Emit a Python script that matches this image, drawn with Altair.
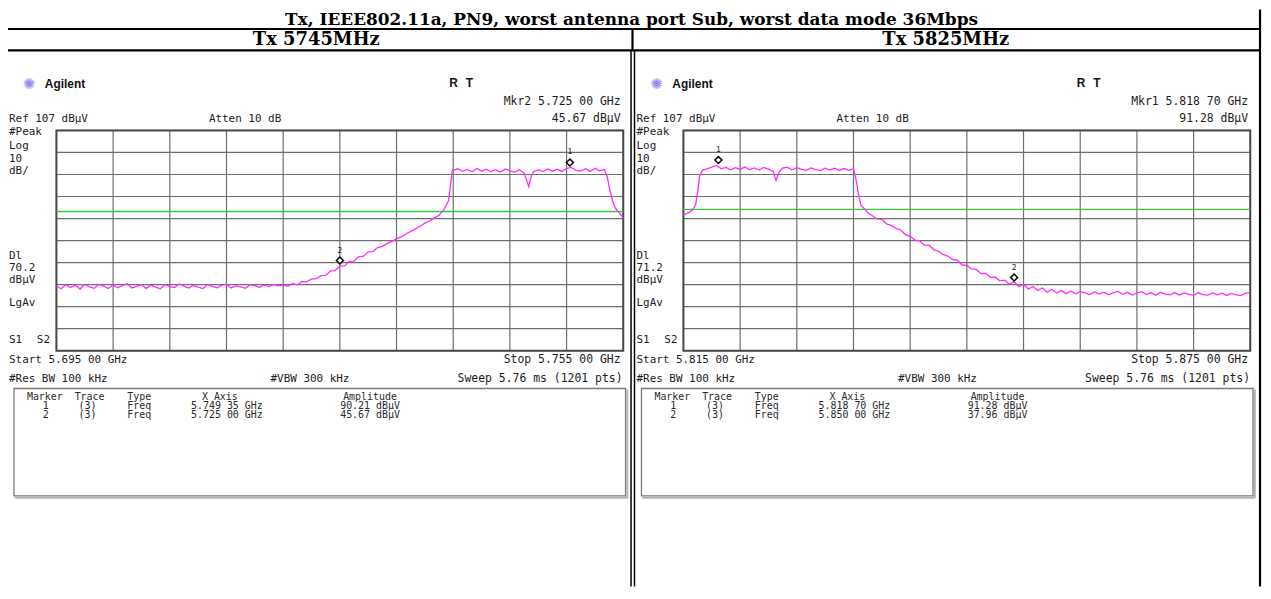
import altair as alt
import pandas as pd

W, H = 1262, 580
M = 8  # page margin of the html body

MONO = "DejaVu Sans Mono"
SANS = "Liberation Sans"
SERIF = "DejaVu Serif"

# ---------------- data ----------------
TITLE = "Tx, IEEE802.11a, PN9, worst antenna port Sub, worst data mode 36Mbps"
HEADERS = ["Tx 5745MHz", "Tx 5825MHz"]
START_GHZ = [5.695, 5.815]
STOP_GHZ = [5.755, 5.875]
REF_LEVEL = 107
DB_PER_DIV = 10
DISPLAY_LINE = [70.2, 71.2]
MKR_NUM = [1, 2]
MKR_FREQ = [[5.74935, 5.72500], [5.81870, 5.85000]]
MKR_AMP = [[90.21, 45.67], [91.28, 37.96]]
ACTIVE_MKR = [2, 1]

# left trace (5745 MHz), dBuV
L_FLOOR = [36.4, 35.1, 37.0, 35.7, 36.7, 35.0, 37.1, 36.0, 35.3, 37.2,
           36.3, 35.2, 36.9, 35.6, 36.6, 37.4, 35.5, 36.2, 37.1, 35.2,
           36.8, 35.9, 35.1, 37.0, 36.1, 35.7, 37.3, 36.3, 35.4, 36.7,
           35.9, 35.2, 37.1, 36.2, 35.6, 36.8, 37.2, 35.5, 36.4, 36.0,
           35.3, 37.0, 36.5, 35.8, 36.9, 36.1, 37.1, 36.5]
L_RISE = [36.8, 36.2, 37.5, 36.9, 38.3, 38.4, 39.5, 39.7, 41.1, 41.2,
          43.2, 43.4, 45.4, 45.5, 47.6, 47.7, 49.7, 49.9, 51.9, 52.0,
          53.8, 54.4, 55.7, 56.6, 57.9, 58.7, 60.0, 61.2, 62.3, 63.5,
          64.9, 65.9, 67.3, 68.5, 70.9, 75.0]
L_EDGE1_F = [5.7367, 5.7369]
L_EDGE1 = [82.0, 88.5]
L_TOP_A = [88.9, 89.6, 88.4, 89.3, 88.2, 89.7, 88.5, 89.4, 88.3, 89.2,
           88.1, 89.5, 88.8, 88.0, 89.3, 87.6]
L_DIP_F = [5.7448, 5.7450, 5.7452]
L_DIP = [84.0, 81.5, 85.5]
L_TOP_B = [88.3, 89.2, 88.3, 89.5, 88.5, 89.4, 88.4, 89.7, 90.2, 88.9,
           88.6, 89.6, 88.4, 89.8, 88.7, 89.3]
L_FALL_F = [5.7533, 5.7536, 5.7539, 5.7542, 5.7545, 5.7548, 5.7550]
L_FALL = [86.0, 79.5, 74.5, 71.5, 70.0, 68.5, 67.0]

# right trace (5825 MHz)
R_EDGE0_F = [5.8150, 5.8153, 5.8156, 5.8160, 5.8163, 5.8165, 5.8167, 5.8170]
R_EDGE0 = [68.3, 69.2, 69.8, 71.0, 73.5, 79.0, 86.0, 89.0]
R_TOP_A = [89.6, 90.3, 91.1, 89.6, 90.2, 89.1, 90.1, 89.3, 90.4, 89.2,
           90.0, 89.0, 90.2, 89.4, 88.4]
R_DIP_F = [5.8248, 5.8251]
R_DIP = [84.3, 88.0]
R_TOP_B = [89.9, 90.3, 89.1, 90.1, 89.3, 88.9, 90.0, 89.2, 88.8, 89.9,
           89.0, 89.8, 88.8, 89.7, 88.9, 89.6]
R_EDGE1_F = [5.8333, 5.8335, 5.8338, 5.8342, 5.8346]
R_EDGE1 = [84.0, 78.5, 73.0, 71.2, 69.4]
R_SLOPE = [68.3, 66.8, 66.6, 64.6, 63.9, 62.5, 61.8, 59.7, 58.9, 57.2,
           56.9, 54.9, 54.9, 52.8, 52.2, 50.7, 49.9, 48.4, 48.1, 45.9,
           45.8, 44.1, 43.9, 42.0, 42.1, 40.3, 40.4, 38.7, 39.0, 37.2,
           38.3, 36.1, 37.2, 35.0, 36.1, 34.3, 35.5, 33.6, 34.8, 33.3,
           34.4, 32.9, 34.1, 32.8, 33.8]
R_FLOOR = [33.3, 32.5, 33.7, 32.7, 33.6, 32.4, 33.4, 33.9, 32.6, 33.5,
           32.3, 33.2, 33.8, 32.5, 33.3, 32.2, 33.5, 32.7, 32.4, 33.4,
           32.3, 33.2, 32.6, 32.1, 33.3, 32.5, 32.2, 33.2, 32.4, 33.1,
           32.1, 33.0, 32.3, 32.0, 33.1, 33.4]

STEP = 0.0005  # sweep sample spacing used when reading the traces


def sweep(f0, vals):
    return [round(f0 + STEP * i, 5) for i in range(len(vals))]


L_F = (sweep(5.6950, L_FLOOR) + sweep(5.7190, L_RISE) + L_EDGE1_F
       + sweep(5.7370, L_TOP_A) + L_DIP_F + sweep(5.7455, L_TOP_B) + L_FALL_F)
L_A = L_FLOOR + L_RISE + L_EDGE1 + L_TOP_A + L_DIP + L_TOP_B + L_FALL
R_F = (R_EDGE0_F + sweep(5.8175, R_TOP_A) + R_DIP_F + sweep(5.8255, R_TOP_B)
       + R_EDGE1_F + sweep(5.8350, R_SLOPE) + sweep(5.8575, R_FLOOR))
R_A = R_EDGE0 + R_TOP_A + R_DIP + R_TOP_B + R_EDGE1 + R_SLOPE + R_FLOOR
TRACES = [(L_F, L_A), (R_F, R_A)]

# ---------------- layout (page pixels) ----------------
GRID_X = [(56.7, 626.7), (687.2, 1257.2)]
GRID_Y = (129.5, 351.0)
TXT_DX = [0, 631]

PX = alt.Scale(domain=[0, W], range=[0, W], nice=False, zero=False)
PY = alt.Scale(domain=[0, H], range=[0, H], nice=False, zero=False)

DIAMOND = "M0,-1.7L0.7,-1L0,-0.3L-0.7,-1Z"


def fscale(i):
    x0, x1 = GRID_X[i]
    return alt.Scale(domain=[START_GHZ[i], STOP_GHZ[i]], range=[x0 - M, x1 - M],
                     nice=False, zero=False)


def ascale():
    return alt.Scale(domain=[REF_LEVEL - 10 * DB_PER_DIV, REF_LEVEL],
                     range=[GRID_Y[1] - M, GRID_Y[0] - M], nice=False, zero=False)


def pix_rules(rows, color, width):
    df = pd.DataFrame(rows, columns=["x1", "y1", "x2", "y2"]) - M
    return alt.Chart(df).mark_rule(color=color, strokeWidth=width).encode(
        x=alt.X("x1:Q", scale=PX, axis=None), x2="x2:Q",
        y=alt.Y("y1:Q", scale=PY, axis=None), y2="y2:Q")


def pix_text(rows, align="left", font=MONO, size=11.5, weight="normal", color="#1c1c1c"):
    df = pd.DataFrame(rows, columns=["t", "x", "y"])
    df["x"] = df["x"] - M
    df["y"] = df["y"] - M
    return alt.Chart(df).mark_text(align=align, baseline="middle", font=font,
                                   fontSize=size, fontWeight=weight, color=color).encode(
        x=alt.X("x:Q", scale=PX, axis=None), y=alt.Y("y:Q", scale=PY, axis=None),
        text="t:N")


def ghz(v):
    s = f"{v:.5f}"
    return s[:5] + " " + s[5:]


layers = []

# table lines
layers.append(pix_rules([
    (M, 27.5, 1268, 27.5),
    (M, 49.0, 1268, 49.0),
    (1267, M, 1267, H + M),
    (636, 27.5, 636, 49.0),
], "#000000", 2.2))
layers.append(pix_rules([
    (634.5, 49.0, 634.5, H + M),
    (638.0, 49.0, 638.0, H + M),
], "#000000", 1.5))

# title + headers
layers.append(pix_text([(TITLE, 635, 18.2)], align="center", font=SERIF, size=17,
                       weight="bold", color="#000000"))
layers.append(pix_text([(HEADERS[0], 318, 38.2), (HEADERS[1], 951, 38.2)], align="center",
                       font=SERIF, size=18, weight="bold", color="#000000"))

for i in range(2):
    f0, f1 = START_GHZ[i], STOP_GHZ[i]
    lo = REF_LEVEL - 10 * DB_PER_DIV
    FX, AY = fscale(i), ascale()
    dx = TXT_DX[i]

    vgrid = pd.DataFrame({"f": [f0 + (f1 - f0) * k / 10 for k in range(11)],
                          "a0": lo, "a1": REF_LEVEL})
    hgrid = pd.DataFrame({"a": [lo + DB_PER_DIV * k for k in range(11)],
                          "f0": f0, "f1": f1})
    layers.append(alt.Chart(vgrid).mark_rule(color="#6e6e6e", strokeWidth=1.2).encode(
        x=alt.X("f:Q", scale=FX, axis=None),
        y=alt.Y("a0:Q", scale=AY, axis=None), y2="a1:Q"))
    layers.append(alt.Chart(hgrid).mark_rule(color="#6e6e6e", strokeWidth=1.2).encode(
        y=alt.Y("a:Q", scale=AY, axis=None),
        x=alt.X("f0:Q", scale=FX, axis=None), x2="f1:Q"))
    frame = pd.DataFrame({"f0": [f0], "f1": [f1], "a0": [lo], "a1": [REF_LEVEL]})
    layers.append(alt.Chart(frame).mark_rect(fillOpacity=0, stroke="#4a4a4a",
                                             strokeWidth=2).encode(
        x=alt.X("f0:Q", scale=FX, axis=None), x2="f1:Q",
        y=alt.Y("a0:Q", scale=AY, axis=None), y2="a1:Q"))
    dl = pd.DataFrame({"a": [DISPLAY_LINE[i]], "f0": [f0], "f1": [f1]})
    layers.append(alt.Chart(dl).mark_rule(color="#2fd02f", strokeWidth=1.3).encode(
        y=alt.Y("a:Q", scale=AY, axis=None),
        x=alt.X("f0:Q", scale=FX, axis=None), x2="f1:Q"))

    tf, ta = TRACES[i]
    tr = pd.DataFrame({"f": tf, "a": ta})
    layers.append(alt.Chart(tr).mark_line(color="#ff2bff", strokeWidth=1.3).encode(
        x=alt.X("f:Q", scale=FX, axis=None), y=alt.Y("a:Q", scale=AY, axis=None)))

    mk = pd.DataFrame({"f": MKR_FREQ[i], "a": MKR_AMP[i], "n": [str(n) for n in MKR_NUM]})
    layers.append(alt.Chart(mk).mark_point(shape=DIAMOND, size=100, filled=True,
                                           fill="#ffffff", stroke="#000000",
                                           strokeWidth=1.5, opacity=1).encode(
        x=alt.X("f:Q", scale=FX, axis=None), y=alt.Y("a:Q", scale=AY, axis=None)))
    layers.append(alt.Chart(mk).mark_text(dy=-15, font=MONO, fontSize=8,
                                          color="#222222").encode(
        x=alt.X("f:Q", scale=FX, axis=None), y=alt.Y("a:Q", scale=AY, axis=None),
        text="n:N"))

    am = ACTIVE_MKR[i] - 1
    # screen annotation texts
    layers.append(pix_text([("\u273a", 29 + dx, 83)], align="center", font="DejaVu Sans",
                           size=15, color="#9a8cf5"))
    layers.append(pix_text([("Agilent", 45 + dx, 83)], font=SANS, size=12, weight="bold",
                           color="#111111"))
    layers.append(pix_text([("R", 456 + dx, 82), ("T", 472 + dx, 82)], align="center",
                           font=SANS, size=12, weight="bold", color="#111111"))
    layers.append(pix_text([
        (f"Ref {REF_LEVEL} dB\u00b5V", 9 + dx, 118),
        ("Atten 10 dB", 210 + dx, 118),
        ("#Peak", 9 + dx, 131),
        ("Log", 9 + dx, 145),
        (str(DB_PER_DIV), 9 + dx, 158),
        ("dB/", 9 + dx, 170),
        ("Dl", 9 + dx, 256),
        (f"{DISPLAY_LINE[i]}", 9 + dx, 268),
        ("dB\u00b5V", 9 + dx, 280),
        ("LgAv", 9 + dx, 303),
        ("S1", 9 + dx, 340),
        ("S2", 37 + dx, 340),
        (f"Start {ghz(f0)} GHz", 9 + dx, 360),
        ("#Res BW 100 kHz", 9 + dx, 379),
        ("#VBW 300 kHz", 272 + dx, 379),
    ], size=11))
    layers.append(pix_text([
        (f"Mkr{ACTIVE_MKR[i]}  {ghz(MKR_FREQ[i][am])} GHz", 624 + dx, 101),
        (f"{MKR_AMP[i][am]:.2f} dB\u00b5V", 624 + dx, 118),
        (f"Stop {ghz(f1)} GHz", 624 + dx, 360),
        ("Sweep 5.76 ms (1201 pts)", 626 + dx, 379),
    ], align="right", size=11.5))

    # marker table box
    bx0, bx1, by0, by1 = 14 + dx, 629 + dx, 389, 497
    box = pd.DataFrame({"x1": [bx0 - M], "x2": [bx1 - M], "y1": [by0 - M], "y2": [by1 - M]})
    layers.append(alt.Chart(box).mark_rect(fillOpacity=0, stroke="#7a7a7a",
                                           strokeWidth=1.3).encode(
        x=alt.X("x1:Q", scale=PX, axis=None), x2="x2:Q",
        y=alt.Y("y1:Q", scale=PY, axis=None), y2="y2:Q"))
    layers.append(pix_rules([
        (bx0 + 1, by1 + 1.8, bx1 + 2, by1 + 1.8),
        (bx1 + 1.8, by0 + 1, bx1 + 1.8, by1 + 2),
    ], "#b4b4b4", 2))
    rows = [("Marker", 27 + dx, 398), ("Trace", 75 + dx, 398), ("Type", 128 + dx, 398),
            ("X Axis", 203 + dx, 398), ("Amplitude", 345 + dx, 398)]
    for k in range(2):
        yy = 407 + 9 * k
        rows += [(str(MKR_NUM[k]), 43 + dx, yy), ("(3)", 79 + dx, yy), ("Freq", 128 + dx, yy),
                 (f"{ghz(MKR_FREQ[i][k])} GHz", 192 + dx, yy),
                 (f"{MKR_AMP[i][k]:.2f} dB\u00b5V", 342 + dx, yy)]
    layers.append(pix_text(rows, size=10, color="#2a2a2a"))

chart = alt.layer(*layers).resolve_scale(x="independent", y="independent").properties(
    width=W, height=H, padding=0, autosize=alt.AutoSizeParams(type="none")
).configure_view(stroke=None)

chart.save("out.html", embed_options={"renderer": "svg", "actions": False})
